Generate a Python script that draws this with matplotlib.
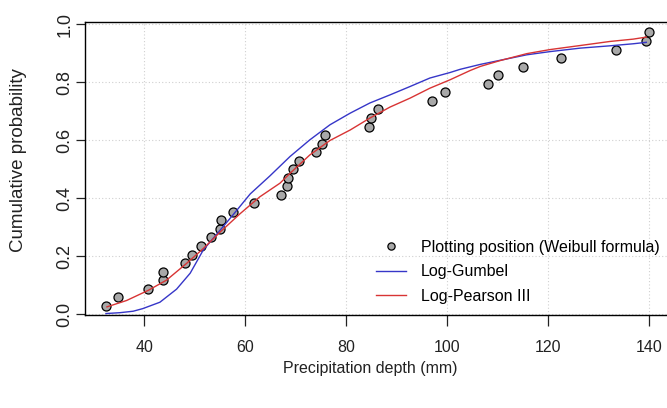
import matplotlib
matplotlib.use("Agg")
import matplotlib.pyplot as plt

plt.rcParams['font.family'] = ['Liberation Sans', 'DejaVu Sans']

# Observed annual maxima (mm) and Weibull plotting positions
depth = [32.4, 34.8, 40.7, 43.8, 43.8, 48.0, 49.5, 51.2, 53.3, 55.0, 55.2,
         57.5, 61.7, 67.0, 68.2, 68.5, 69.4, 70.7, 74.0, 75.2, 75.8, 84.5,
         84.9, 86.3, 97.1, 99.7, 108.2, 110.2, 115.1, 122.6, 133.4, 139.5, 140.0]
weibull_p = [0.029, 0.059, 0.088, 0.118, 0.147, 0.176, 0.206, 0.235, 0.265,
             0.294, 0.324, 0.353, 0.382, 0.412, 0.441, 0.471, 0.500, 0.529,
             0.559, 0.588, 0.618, 0.647, 0.676, 0.706, 0.735, 0.765, 0.794,
             0.824, 0.853, 0.882, 0.912, 0.941, 0.971]

# Fitted Log-Gumbel CDF
gumbel_x = [32.4, 35.2, 37.8, 39.7, 43.1, 46.4, 49.1, 51.7, 54.4, 57.6, 61.0,
            64.9, 68.9, 72.8, 76.8, 80.8, 84.7, 88.7, 92.7, 96.6, 100.6, 102.6,
            106.6, 110.5, 115.8, 120.4, 126.4, 132.3, 136.9, 139.5]
gumbel_p = [0.003, 0.006, 0.011, 0.020, 0.042, 0.087, 0.142, 0.222, 0.277,
            0.343, 0.415, 0.477, 0.544, 0.601, 0.653, 0.693, 0.728, 0.756,
            0.785, 0.814, 0.833, 0.844, 0.861, 0.875, 0.894, 0.905, 0.917,
            0.925, 0.932, 0.937]

# Fitted Log-Pearson III CDF
lp3_x = [32.6, 36.5, 40.8, 44.4, 48.4, 51.7, 55.0, 59.0, 62.9, 66.9, 68.9,
         72.8, 76.8, 80.8, 84.7, 88.7, 92.7, 96.6, 100.6, 104.6, 106.6, 110.5,
         115.8, 120.4, 126.4, 132.3, 136.9, 139.5]
lp3_p = [0.026, 0.048, 0.083, 0.118, 0.176, 0.227, 0.283, 0.347, 0.405, 0.452,
         0.486, 0.549, 0.599, 0.635, 0.676, 0.714, 0.745, 0.779, 0.808, 0.840,
         0.854, 0.874, 0.898, 0.912, 0.926, 0.940, 0.948, 0.955]

fig = plt.figure(figsize=(6.67, 4.08), dpi=100)
ax = fig.add_axes([85 / 667, 1 - 315 / 408, 585 / 667, 293 / 408])

ax.grid(True, color='#d0d0d0', linestyle=(0, (1, 2)), linewidth=0.8)
ax.set_axisbelow(True)

ax.plot(depth, weibull_p, linestyle='none', marker='o', markersize=6.5,
        markerfacecolor='#a8a8a8', markeredgecolor='black', markeredgewidth=0.9,
        label='Plotting position (Weibull formula)', zorder=3)
ax.plot(gumbel_x, gumbel_p, color='#3636c8', linewidth=1.0, label='Log-Gumbel', zorder=4)
ax.plot(lp3_x, lp3_p, color='#d83434', linewidth=1.0, label='Log-Pearson III', zorder=4)

ax.set_xlim(28.25, 144.2)
ax.set_ylim(-0.002, 1.007)
ax.set_xticks([40, 60, 80, 100, 120, 140])
ax.set_yticks([0.0, 0.2, 0.4, 0.6, 0.8, 1.0])
ax.set_yticklabels(['0.0', '0.2', '0.4', '0.6', '0.8', '1.0'])

for s in ax.spines.values():
    s.set_color('black')
    s.set_linewidth(1.0)

ax.tick_params(axis='x', length=8, width=0.9, pad=10, labelsize=11.5, colors='#222222')
ax.tick_params(axis='y', length=6.5, width=0.9, pad=2, labelsize=13, colors='#222222')
for lab in ax.get_yticklabels():
    lab.set_rotation(90)
    lab.set_va('center')

ax.set_xlabel('Precipitation depth (mm)', fontsize=11.5, color='#222222')
ax.xaxis.set_label_coords(0.487, -0.181)
ax.xaxis.label.set_va('center')
ax.set_ylabel('Cumulative probability', fontsize=13.5, color='#222222')
ax.yaxis.set_label_coords(-0.1145, 0.529)
ax.yaxis.label.set_va('center')

ax.legend(loc='upper left', bbox_to_anchor=(376 / 667, 1 - 240 / 408),
          bbox_transform=fig.transFigure, frameon=False, fontsize=11.5,
          borderpad=0, borderaxespad=0, handlelength=1.9, handletextpad=0.9,
          labelspacing=0.58, markerscale=0.8)

fig.savefig('out.png', dpi=100)
